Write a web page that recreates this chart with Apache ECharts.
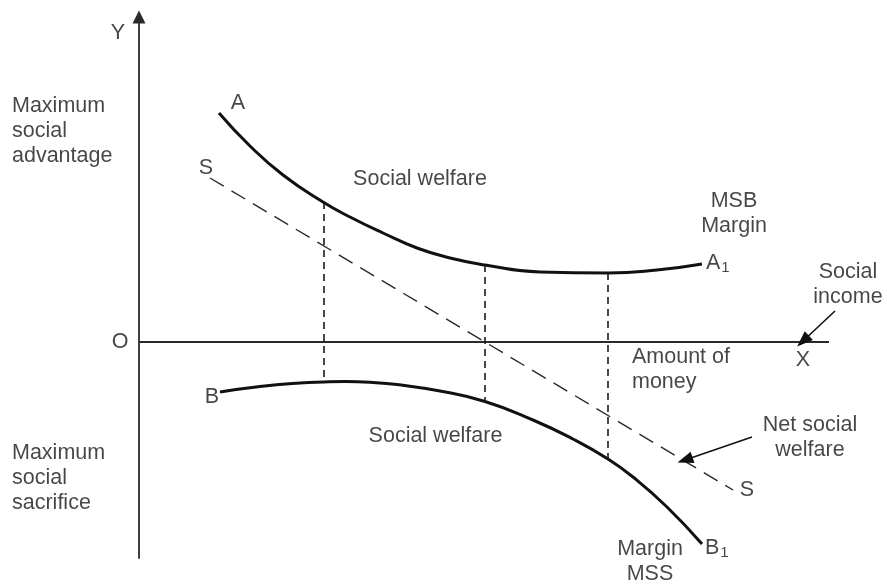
<!DOCTYPE html>
<html><head><meta charset="utf-8">
<script src="https://cdn.jsdelivr.net/npm/echarts@6/dist/echarts.min.js"></script>
<style>html,body{margin:0;padding:0;background:#fff}#c{width:888px;height:584px}</style>
</head><body><div id="c"></div>
<script>
// Curve A -> A1 (marginal social benefit)
const curveA = [[80,229],[111,196],[144,167],[184,140],[211,125],[244,109],[278,94],[311,84],[346,77],[401,70],[469,69],[518,72],[563,78]];
// Curve B -> B1 (marginal social sacrifice)
const curveB = [[81,-50],[121,-44.5],[161,-41],[185,-40],[206,-39.6],[231,-40.3],[258,-42.5],[301,-49],[346,-59.5],[394,-78],[434,-97],[469,-117],[494,-135],[528,-165],[563,-202]];
// Net social welfare line S-S
const lineS = [[71,164],[594,-148]];
// Horizontal axis O-X
const axisX = [[0,0],[690,0]];
// Vertical dotted drops
const dropX = [185,346,469];
const dropTop = [140,77,69];
const dropBottom = [-40,-60,-117];
// Pointer arrows [from, to]
const pointers = [[[696,31],[664,1]],[[613,-95],[546,-118]]];
// Text annotations
const labelTexts = ['Y','Maximum\nsocial\nadvantage','Maximum\nsocial\nsacrifice','O','A','S','Social welfare','MSB\nMargin','A{s|1}','Social\nincome','Amount of\nmoney','X','B','Social welfare','Net social\nwelfare','S','Margin\nMSS','B{s|1}'];
const labelAt = [[-21,309],[-127,210.5],[-127,-136],[-19,0],[99,239],[67,174],[281,163],[595,128.5],[567,79],[709,57.5],[493,-27.5],[664,-18],[73,-55],[296.5,-94],[671,-96],[608,-148],[511,-219.5],[566,-206]];
const labelAlign = ['center','left','left','center','center','center','center','center','left','center','left','center','center','center','center','center','center','left'];

const ink = '#1a1718';
const font = 'Liberation Sans, Arial, sans-serif';
const series = [];
series.push({type:'line', data:axisX, symbol:'none', lineStyle:{color:'#2a2a2a', width:1.8}, silent:true});
series.push({type:'line', data:curveA, smooth:true, symbol:'none', lineStyle:{color:'#111', width:3}, silent:true});
series.push({type:'line', data:curveB, smooth:true, symbol:'none', lineStyle:{color:'#111', width:3}, silent:true});
series.push({type:'line', data:lineS, symbol:'none', lineStyle:{color:'#2a2a2a', width:1.4, type:[16,9]}, silent:true});
dropX.forEach((x,i)=>{
  series.push({type:'line', data:[[x,dropTop[i]],[x,dropBottom[i]]], symbol:'none', lineStyle:{color:'#1a1a1a', width:1.6, type:[7,5]}, silent:true});
});
series.push({type:'line', data:[], clip:false, silent:true,
  markLine:{silent:true, symbol:['none','triangle'], symbolSize:[12,16], animation:false,
    lineStyle:{color:'#111', width:1.6, type:'solid'}, label:{show:false},
    data: pointers.map(p=>[{coord:p[0]},{coord:p[1]}])}});
series.push({type:'scatter', clip:false, silent:true, symbolSize:0,
  data: labelTexts.map((t,i)=>({value:labelAt[i], name:t,
    label:{show:true, position:'inside', formatter:t, align:labelAlign[i], verticalAlign:'middle',
      fontFamily:font, fontSize:21.5, lineHeight:25, color:ink,
      rich:{s:{fontSize:15, fontFamily:font, color:ink, verticalAlign:'bottom', lineHeight:15, padding:[14,0,0,1]}}}}))
});

const chart = echarts.init(document.getElementById('c'), null, {renderer:'canvas'});
chart.setOption({
  animation:false,
  backgroundColor:'#fff',
  grid:{left:139, right:0, top:17, bottom:26},
  xAxis:{type:'value', min:0, max:749, axisLine:{show:false}, axisTick:{show:false}, axisLabel:{show:false}, splitLine:{show:false}},
  yAxis:{type:'value', min:-216, max:325, axisLine:{show:true, onZero:true, symbol:['none','triangle'], symbolSize:[13,13], lineStyle:{color:'#2a2a2a', width:1.8}}, axisTick:{show:false}, axisLabel:{show:false}, splitLine:{show:false}},
  series: series
});
</script></body></html>
